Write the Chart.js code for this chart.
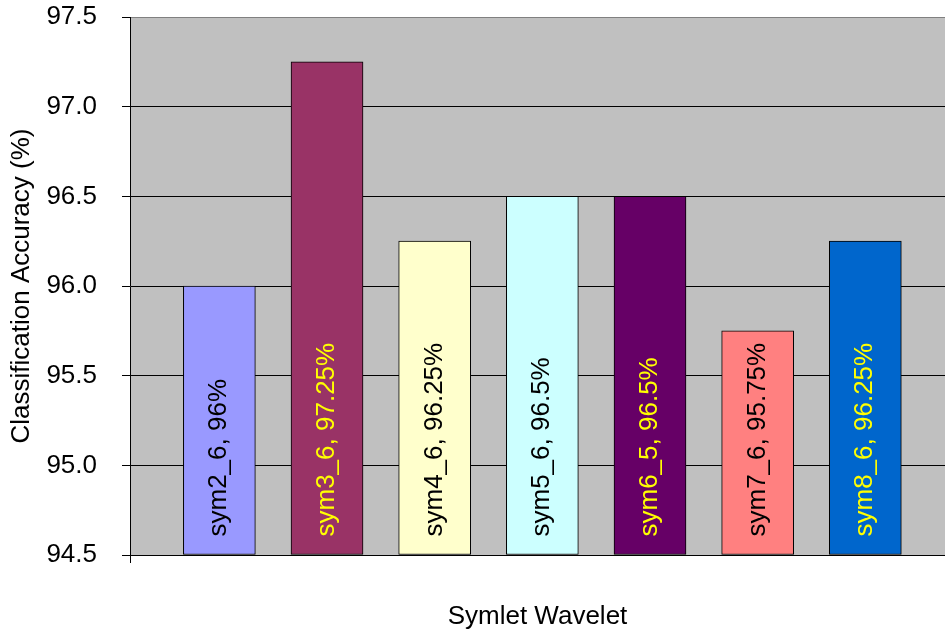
<!DOCTYPE html>
<html>
<head>
<meta charset="utf-8">
<script src="https://cdn.jsdelivr.net/npm/chart.js@4.4.1/dist/chart.umd.min.js"></script>
<style>
  html, body { margin: 0; padding: 0; background: #fff; }
  #wrap { width: 945px; height: 632px; position: relative; }
</style>
</head>
<body>
<div id="wrap"><canvas id="accuracyChart"></canvas></div>
<script>
// Symlet wavelet classification accuracy
const wavelets = ['sym2_6', 'sym3_6', 'sym4_6', 'sym5_6', 'sym6_5', 'sym7_6', 'sym8_6'];
const accuracy = [96, 97.25, 96.25, 96.5, 96.5, 95.75, 96.25];
const barColors = ['#9999FF', '#993366', '#FFFFCC', '#CCFFFF', '#660066', '#FF8080', '#0066CC'];
const labelColors = ['#000000', '#FFFF00', '#000000', '#000000', '#FFFF00', '#000000', '#FFFF00'];
const yMin = 94.5;
const yMax = 97.5;
const yStep = 0.5;
const xMin = -0.83;
const xMax = 6.74;

Chart.defaults.font.family = '"Liberation Sans", Arial, sans-serif';
Chart.defaults.color = '#000';

// grey plot area behind the grid
const plotBackground = {
    id: 'plotBackground',
    beforeDraw(chart) {
        const { ctx, chartArea: a } = chart;
        ctx.save();
        ctx.fillStyle = '#C0C0C0';
        ctx.fillRect(a.left, a.top, a.right - a.left, a.bottom - a.top);
        ctx.restore();
    }
};

// vertical name/value label inside each bar
const barLabels = {
    id: 'barLabels',
    afterDatasetsDraw(chart) {
        const { ctx } = chart;
        const meta = chart.getDatasetMeta(0);
        ctx.save();
        ctx.font = '26px "Liberation Sans", Arial, sans-serif';
        ctx.textAlign = 'left';
        ctx.textBaseline = 'alphabetic';
        meta.data.forEach((bar, i) => {
            ctx.save();
            ctx.translate(bar.x + 7, bar.base - 18);
            ctx.rotate(-Math.PI / 2);
            ctx.fillStyle = labelColors[i];
            ctx.fillText(wavelets[i] + ', ' + accuracy[i] + '%', 0, 0);
            ctx.restore();
        });
        ctx.restore();
    }
};

new Chart(document.getElementById('accuracyChart').getContext('2d'), {
    type: 'bar',
    data: {
        datasets: [{
            data: accuracy.map((v, i) => ({ x: i, y: v })),
            backgroundColor: barColors,
            borderColor: '#000',
            borderWidth: 1,
            borderSkipped: false,
            barThickness: 72,
            base: yMin
        }]
    },
    options: {
        responsive: true,
        maintainAspectRatio: false,
        animation: false,
        layout: { padding: { top: 17, right: 0, bottom: 0, left: 0 } },
        plugins: {
            legend: { display: false },
            tooltip: { enabled: false }
        },
        scales: {
            x: {
                type: 'linear',
                offset: false,
                min: xMin,
                max: xMax,
                afterBuildTicks(scale) {
                    scale.ticks = [{ value: xMin }];
                },
                afterFit(scale) {
                    scale.height = 77;
                    scale.paddingLeft = 0;
                    scale.paddingRight = 0;
                },
                ticks: { display: false },
                grid: {
                    offset: false,
                    drawOnChartArea: false,
                    drawTicks: true,
                    tickLength: 8,
                    color: '#000'
                },
                border: { display: true, color: '#000' },
                title: {
                    display: true,
                    text: 'Symlet Wavelet',
                    font: { size: 26 },
                    color: '#000',
                    padding: { top: 0, bottom: 0 }
                }
            },
            y: {
                min: yMin,
                max: yMax,
                afterFit(scale) {
                    scale.width = 130;
                    scale.paddingTop = 0;
                    scale.paddingBottom = 0;
                },
                ticks: {
                    stepSize: yStep,
                    padding: 25,
                    font: { size: 26 },
                    color: '#000',
                    callback: v => v.toFixed(1)
                },
                grid: {
                    color: c => (c.tick && c.tick.value === yMax ? '#808080' : '#000'),
                    tickColor: '#000',
                    tickLength: 8,
                    lineWidth: 1
                },
                border: { display: true, color: '#000' },
                title: {
                    display: true,
                    text: 'Classification Accuracy (%)',
                    font: { size: 26 },
                    color: '#000',
                    padding: { top: 6, bottom: 0 }
                }
            }
        }
    },
    plugins: [plotBackground, barLabels]
});
</script>
</body>
</html>
